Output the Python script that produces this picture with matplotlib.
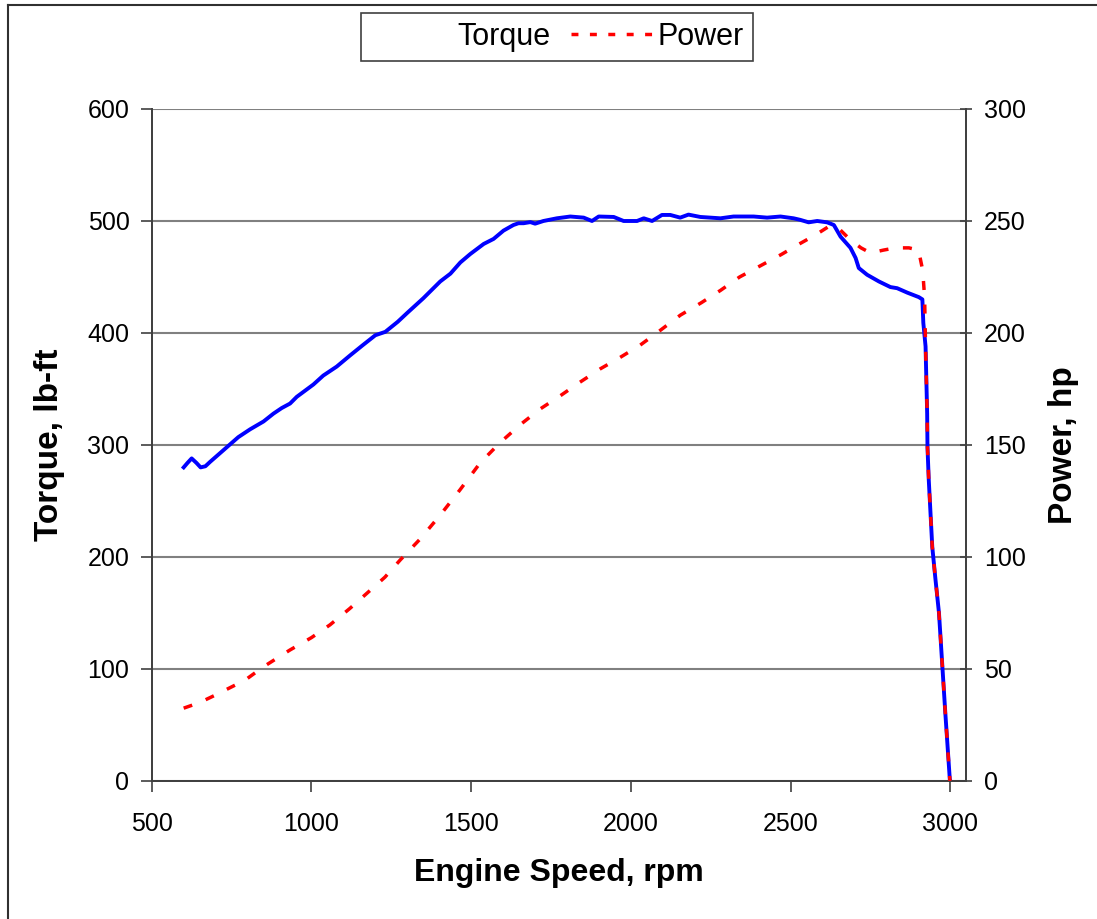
import matplotlib
matplotlib.use("Agg")
import matplotlib.pyplot as plt
from matplotlib.lines import Line2D

plt.rcParams['font.family'] = ['Liberation Sans', 'DejaVu Sans']

# torque curve, lb-ft
torque_rpm = [600, 612, 625, 640, 653, 668, 683, 703, 735, 771, 808, 850, 881, 907,
              933, 954, 1006, 1037, 1079, 1121, 1160, 1200, 1231, 1270, 1300, 1350,
              1403, 1435, 1466, 1497, 1539, 1570, 1601, 1632, 1648, 1664, 1685, 1700,
              1726, 1768, 1810, 1852, 1878, 1899, 1946, 1977, 2019, 2040, 2066, 2097,
              2123, 2154, 2180, 2217, 2280, 2321, 2384, 2426, 2468, 2509, 2530, 2556,
              2583, 2614, 2635, 2656, 2687, 2703, 2713, 2739, 2776, 2812, 2833,
              2865, 2901, 2912, 2915, 2922, 2927, 2928, 2932, 2943, 2953, 2964, 2974,
              2984, 2998, 3000]
torque = [280, 284, 288, 284, 280, 281, 285, 290, 298, 307, 314, 321, 328, 333,
          337, 343, 354, 362, 370, 380, 389, 398, 401, 410, 418, 431,
          446, 453, 463, 470.5, 479.5, 484, 491.4, 496.4, 498, 498, 499, 497.6,
          500, 502.4, 504, 503, 500, 504, 503.6, 500, 500, 502.4, 500, 505.4,
          505.4, 503, 505.7, 503.6, 502.4, 504, 504, 503, 504, 502.4, 501, 498.8,
          500, 498.8, 496.4, 486, 476, 467, 458, 452, 446, 441, 440,
          436, 432, 430, 409, 388, 328, 298, 269, 209, 180, 150, 105,
          60, 1, 0]

# power curve, hp
power_rpm = [600, 650, 700, 750, 792, 850, 933, 1000, 1058, 1120, 1183, 1230, 1278,
             1340, 1403, 1465, 1528, 1590, 1653, 1715, 1779, 1840, 1904, 1965, 2029,
             2090, 2155, 2220, 2280, 2340, 2405, 2470, 2530, 2580, 2624, 2655, 2687,
             2720, 2750, 2790, 2828, 2870, 2900, 2913, 2919, 2922, 2927, 2928, 2932,
             2943, 2953, 2964, 2974, 2984, 2998, 3000]
power = [32.5, 35, 38.4, 42, 45, 51, 58.5, 64, 69.7, 77, 85, 91, 98.7,
         108, 118.7, 130, 142, 151, 159, 166, 172, 178, 184, 189, 194.6,
         201, 208, 213.5, 219, 225, 230, 235, 240, 244, 248, 246, 241.5,
         238, 235.7, 237, 238, 238, 237, 228, 216, 194, 164, 149, 134.5,
         104.5, 90, 75, 52.5, 30, 0.5, 0]

fig = plt.figure(figsize=(10.97, 9.19), dpi=100)
ax = fig.add_axes([0.1383, 0.1502, 0.881 - 0.1383, 0.8814 - 0.1502])
ax2 = ax.twinx()

ax.plot(torque_rpm, torque, color='#0000ff', lw=2.8, solid_joinstyle='round', zorder=3)
ax2.plot(power_rpm, power, color='#ff0000', lw=2.5, dashes=(2.6, 4.2), zorder=4)

ax.set_xlim(500, 3050)
ax.set_ylim(0, 600)
ax2.set_ylim(0, 300)
ax.set_xticks([500, 1000, 1500, 2000, 2500, 3000])
ax.set_yticks(range(0, 601, 100))
ax2.set_yticks(range(0, 301, 50))

ax.yaxis.grid(True, color='#808080', lw=1.5)
ax.set_axisbelow(True)

for a in (ax, ax2):
    for s in a.spines.values():
        s.set_color('#404040')
        s.set_linewidth(1.3)
ax.spines['top'].set_visible(False)
ax2.spines['top'].set_visible(False)

ax.tick_params(axis='y', labelsize=18, length=8, width=1.2, color='#404040', pad=8)
ax.tick_params(axis='x', labelsize=18, length=8, width=1.2, color='#404040', pad=14)
ax2.tick_params(axis='y', labelsize=18, length=9, width=1.2, color='#404040',
                direction='inout', pad=8)

ax.set_xlabel('Engine Speed, rpm', fontsize=23, fontweight='bold', labelpad=16)
ax.set_ylabel('Torque, lb-ft', fontsize=24, fontweight='bold', labelpad=16)
ax2.set_ylabel('Power, hp', fontsize=24, fontweight='bold', labelpad=16)

handles = [Line2D([], [], color='none', lw=2.5),
           Line2D([], [], color='#ff0000', lw=2.5, dashes=(2.0, 3.3))]
leg = fig.legend(handles, ['Torque', 'Power'], loc='center', ncol=2,
                 bbox_to_anchor=(0.508, 0.960), fontsize=22, frameon=True,
                 fancybox=False, framealpha=1, edgecolor='#404040',
                 handlelength=2.75, handletextpad=0.1, columnspacing=0.65,
                 borderpad=0.3)
leg.get_frame().set_linewidth(1.2)

# chart area border (top and left edges visible)
fig.add_artist(Line2D([8 / 1097, 1], [1 - 5 / 919, 1 - 5 / 919], color='#303030', lw=1.5,
                      transform=fig.transFigure))
fig.add_artist(Line2D([8 / 1097, 8 / 1097], [0, 1 - 5 / 919], color='#303030', lw=1.5,
                      transform=fig.transFigure))

fig.savefig('out.png', dpi=100)
